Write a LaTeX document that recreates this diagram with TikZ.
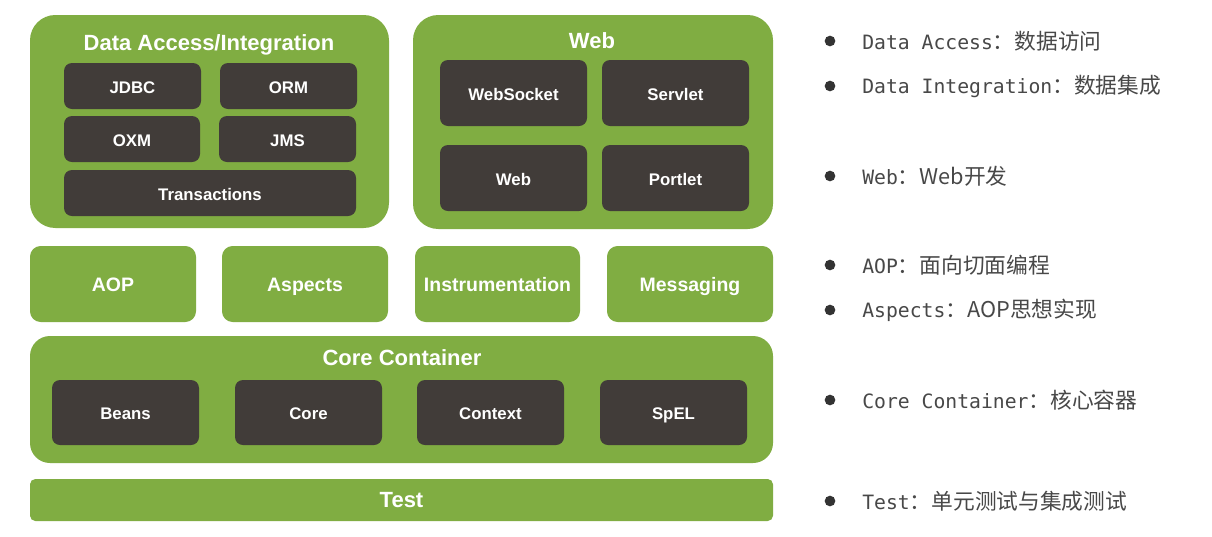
\documentclass[tikz,border=0pt]{standalone}
\usepackage{fontspec}
\setmainfont{Liberation Sans}
\newfontfamily\mono{DejaVu Sans Mono}
\newfontfamily\cjk{Noto Sans CJK SC}
\usetikzlibrary{fit}
\definecolor{sgreen}{HTML}{80AD42}
\definecolor{sdark}{HTML}{413C39}
\definecolor{stext}{HTML}{484848}
\definecolor{sbullet}{HTML}{333333}
\begin{document}
\begin{tikzpicture}[x=0.75pt,y=-0.75pt,
  outerbox/.style={fill=sgreen, draw=none, rounded corners=19pt, inner sep=0pt},
  dbox/.style={fill=sdark, draw=none, rounded corners=6pt, inner sep=0pt},
  gbox/.style={fill=sgreen, draw=none, rounded corners=8pt, inner sep=0pt},
  dlbl/.style={text=white, inner sep=0pt, text height=9pt, text depth=0pt, yshift=-0.8pt, font=\bfseries\fontsize{12.6}{14}\selectfont},
  glbl/.style={text=white, inner sep=0pt, text height=10.5pt, text depth=0pt, font=\bfseries\fontsize{14.6}{16}\selectfont},
  title/.style={text=white, font=\bfseries\fontsize{16.5}{18}\selectfont, inner sep=0pt, text height=11.8pt, text depth=0pt},
  bullet/.style={circle, fill=sbullet, inner sep=0pt, minimum size=8pt},
  desc/.style={anchor=west, inner sep=0pt, text=stext},
]
\useasboundingbox (0,0) rectangle (1212,536);
\fill[white] (0,0) rectangle (1212,536);

% Data Access / Integration
\node[outerbox, fit={(30,15) (389,228)}] (da) {};
\node[title] (datitle) at (209,42.5) {Data Access/Integration};
\node[dbox, fit={(64,63) (201,109)}] (jdbc) {};
\node[dbox, fit={(220,63) (357,109)}] (orm) {};
\node[dbox, fit={(64,116) (200,162)}] (oxm) {};
\node[dbox, fit={(219,116) (356,162)}] (jms) {};
\node[dbox, fit={(64,170) (356,216)}] (trans) {};
\node[dlbl] at (jdbc.center) {JDBC};
\node[dlbl] at (orm.center) {ORM};
\node[dlbl] at (oxm.center) {OXM};
\node[dlbl] at (jms.center) {JMS};
\node[dlbl] at (trans.center) {Transactions};

% Web
\node[outerbox, fit={(413,15) (773,229)}] (webbox) {};
\node[title] (webtitle) at (592,41) {Web};
\node[dbox, fit={(440,60) (587,126)}] (websocket) {};
\node[dbox, fit={(602,60) (749,126)}] (servlet) {};
\node[dbox, fit={(440,145) (587,211)}] (web) {};
\node[dbox, fit={(602,145) (749,211)}] (portlet) {};
\node[dlbl] at (websocket.center) {WebSocket};
\node[dlbl] at (servlet.center) {Servlet};
\node[dlbl] at (web.center) {Web};
\node[dlbl] at (portlet.center) {Portlet};

% Middle row
\node[gbox, fit={(30,246) (196,322)}] (aop) {};
\node[gbox, fit={(222,246) (388,322)}] (aspects) {};
\node[gbox, fit={(415,246) (580,322)}] (instr) {};
\node[gbox, fit={(607,246) (773,322)}] (msg) {};
\node[glbl] at (aop.center) {AOP};
\node[glbl] at (aspects.center) {Aspects};
\node[glbl] at (instr.center) {Instrumentation};
\node[glbl] at (msg.center) {Messaging};

% Core Container
\node[outerbox, rounded corners=15pt, fit={(30,336) (773,463)}] (core) {};
\node[title] (coretitle) at (402,357.5) {Core Container};
\node[dbox, fit={(52,380) (199,445)}] (beans) {};
\node[dbox, fit={(235,380) (382,445)}] (corem) {};
\node[dbox, fit={(417,380) (564,445)}] (context) {};
\node[dbox, fit={(600,380) (747,445)}] (spel) {};
\node[dlbl] at (beans.center) {Beans};
\node[dlbl] at (corem.center) {Core};
\node[dlbl] at (context.center) {Context};
\node[dlbl] at (spel.center) {SpEL};

% Test
\node[outerbox, rounded corners=4pt, fit={(30,479) (773,521)}] (test) {};
\node[title] at (test.center) {Test};

% Descriptions
\foreach \y/\a/\b [count=\i] in {
  41/Data Access/：数据访问,
  86/Data Integration/：数据集成,
  176/Web/：Web开发,
  265/AOP/：面向切面编程,
  310/Aspects/：AOP思想实现,
  400/Core Container/：核心容器,
  501/Test/：单元测试与集成测试}{
  \node[bullet] (b\i) at (830,\y) {};
  \node[desc] (d\i) at (862,\y) {{\mono\fontsize{14.8}{16}\selectfont \a}{\cjk\fontsize{16.3}{18}\selectfont \b}};
}
\end{tikzpicture}
\end{document}
